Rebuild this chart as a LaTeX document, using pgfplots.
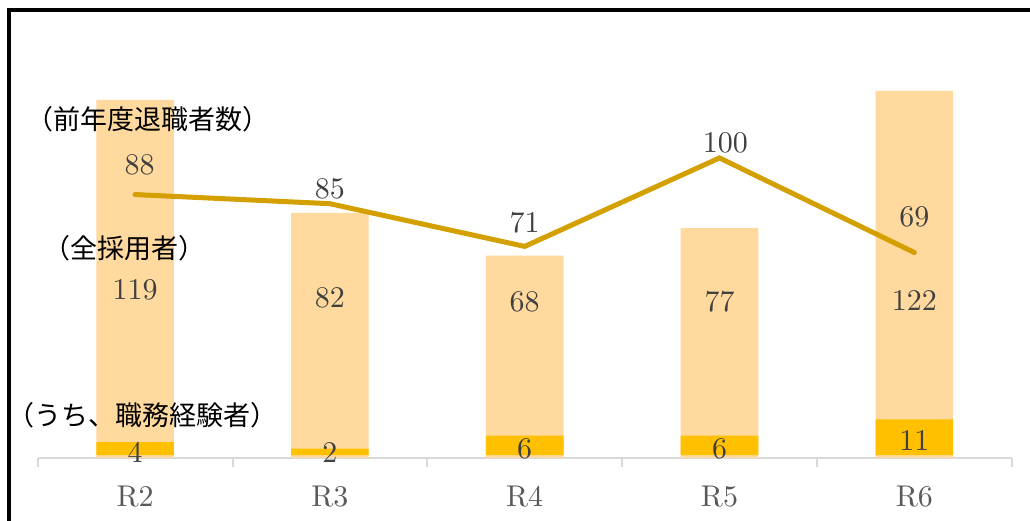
\documentclass[border=0pt]{standalone}
\usepackage{fontspec}
\usepackage{pgfplots}
\pgfplotsset{compat=1.18}
\newfontfamily\jp{Noto Sans CJK JP}
\newfontfamily\lmten{lmroman10-regular.otf}
\definecolor{lightbar}{RGB}{255,217,158}
\definecolor{darkbar}{RGB}{255,192,0}
\definecolor{linec}{RGB}{212,160,0}
\definecolor{numgray}{RGB}{64,64,64}
\definecolor{tickgray}{RGB}{89,89,89}
\definecolor{axisgray}{RGB}{217,217,217}
\begin{document}
\begin{tikzpicture}[x=1pt,y=1pt]
\useasboundingbox (0,0) rectangle (1030,521);
\fill[white] (0,0) rectangle (1030,521);
\draw[line width=4pt] (9,0) -- (9,510.7) -- (1030,510.7);
\begin{axis}[
  at={(37.7pt,63pt)}, anchor=south west,
  scale only axis, width=974pt, height=448pt,
  xmin=-0.5, xmax=4.5, ymin=1.64, ymax=148.5,
  axis x line=bottom, axis y line=none,
  x axis line style={-, draw=axisgray, line width=2pt},
  xtick={0,1,2,3,4}, xticklabels={R2,R3,R4,R5,R6},
  major x tick style={draw=none},
  minor xtick={-0.5,0.5,1.5,2.5,3.5,4.5},
  minor x tick style={draw=axisgray, line width=2pt},
  minor tick length=9pt,
  tick align=outside,
  xticklabel style={font=\lmten\fontsize{30}{36}\selectfont, text=tickgray, anchor=center, yshift=-34pt},
  clip mode=individual,
]
\addplot[ybar, bar width=77.6pt, bar shift=0pt, fill=lightbar, draw=none] coordinates {(0,119) (1,82) (2,68) (3,77) (4,122)};
\addplot[linec, line width=5pt, line cap=round, mark=none] coordinates {(0,88) (1,85) (2,71) (3,100) (4,69)};
\coordinate (l0) at (axis cs:0.023,97.7);
\coordinate (l1) at (axis cs:1.0,89.8);
\coordinate (l2) at (axis cs:2.0,78.7);
\coordinate (l3) at (axis cs:3.03,104.9);
\coordinate (l4) at (axis cs:4.0,80.8);
\coordinate (b0) at (axis cs:0,56.7);
\coordinate (b1) at (axis cs:1,54.2);
\coordinate (b2) at (axis cs:2,52.9);
\coordinate (b3) at (axis cs:3,52.8);
\coordinate (b4) at (axis cs:4,53.2);
\coordinate (d0) at (axis cs:0,3.6);
\coordinate (d1) at (axis cs:1,3.3);
\coordinate (d2) at (axis cs:2,4.6);
\coordinate (d3) at (axis cs:3,4.6);
\coordinate (d4) at (axis cs:4,7.5);
\end{axis}
\begin{axis}[
  at={(37.7pt,63pt)}, anchor=south west,
  scale only axis, width=974pt, height=448pt,
  xmin=-0.5, xmax=4.5, ymin=-0.86, ymax=136.98,
  hide axis,
]
\addplot[ybar, bar width=77.6pt, bar shift=0pt, fill=darkbar, draw=none] coordinates {(0,4) (1,2) (2,6) (3,6) (4,11)};
\end{axis}
\begin{scope}[every node/.style={font=\lmten\fontsize{30}{36}\selectfont, text=numgray, inner sep=0pt}]
\node at (l0) {88};
\node at (l1) {85};
\node at (l2) {71};
\node at (l3) {100};
\node at (l4) {69};
\node at (b0) {119};
\node at (b1) {82};
\node at (b2) {68};
\node at (b3) {77};
\node at (b4) {122};
\node at (d0) {4};
\node at (d1) {2};
\node at (d2) {6};
\node at (d3) {6};
\node at (d4) {11};
\end{scope}
\begin{scope}[every node/.style={font=\jp\fontsize{27}{32}\selectfont, text=black, inner sep=0pt}]
\node at (147.5,402) {（前年度退職者数）};
\node at (124,273) {（全採用者）};
\node at (142.5,106) {（うち、職務経験者）};
\end{scope}
\end{tikzpicture}
\end{document}
